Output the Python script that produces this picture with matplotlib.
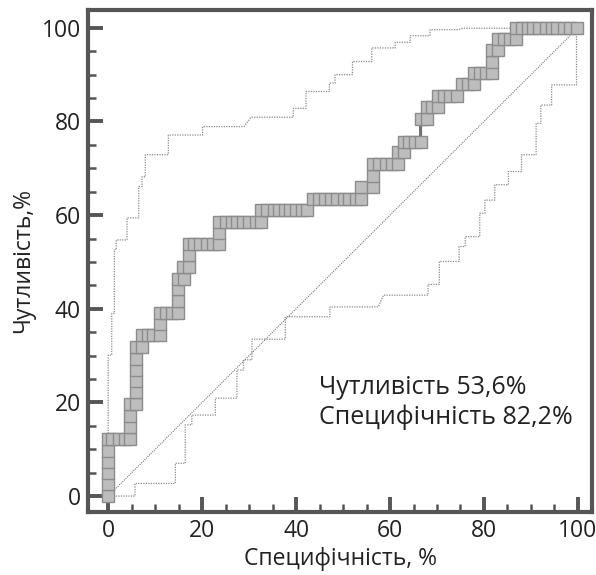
import matplotlib
matplotlib.use("Agg")
import matplotlib.pyplot as plt
from matplotlib.ticker import MultipleLocator

# ROC curve points (100 - specificity, sensitivity)
roc_x = [0, 0, 0, 0, 0, 0,
         0.85, 2.2, 3.5, 4.7,
         4.7, 4.7, 4.7, 5.9,
         5.9, 5.9, 5.9, 5.9, 5.9, 7.2,
         7.2, 8.4, 9.6, 11.0, 11.0,
         11.0, 12.3, 13.5, 14.8,
         14.8, 14.8, 14.8, 16.1, 16.0, 17.3, 17.2,
         17.2, 18.3, 19.6, 21.0, 22.4, 23.6, 23.6,
         23.6, 25.1, 26.3, 27.5, 28.8, 30.0, 31.4, 32.6,
         32.6, 33.9, 35.2, 36.4, 37.6, 38.8, 40.0, 41.2, 42.4,
         43.5, 44.9, 46.2, 47.4, 48.7, 50.1, 51.3, 52.7, 53.9,
         53.9, 56.3, 56.3,
         56.3, 57.7, 59.1, 60.4, 61.6,
         61.6, 62.9,
         62.9, 64.1, 65.3, 66.5,
         66.5, 67.8,
         67.8, 69.0, 70.2,
         70.3, 71.5, 72.8, 74.2,
         75.4, 76.6, 77.9,
         77.9, 79.2, 80.4, 81.8,
         81.8, 81.8, 83.0,
         83.0, 84.3, 85.5, 86.8,
         86.8, 88.0, 89.3, 90.5, 91.8, 93.1, 94.4, 95.6, 97.0, 98.3, 99.7]
roc_y = [0, 2.5, 4.9, 7.3, 9.7, 12.2,
         12.2, 12.2, 12.2, 12.2,
         14.7, 17.2, 19.7, 19.7,
         22.2, 24.5, 26.9, 29.3, 31.8, 31.8,
         34.3, 34.3, 34.3, 34.3, 36.7,
         39.2, 39.2, 39.2, 39.2,
         41.7, 44.2, 46.4, 46.4, 48.9, 48.9, 51.4,
         53.8, 53.8, 53.8, 53.8, 53.8, 53.8, 56.1,
         58.5, 58.5, 58.5, 58.5, 58.5, 58.5, 58.5, 58.5,
         61.0, 61.0, 61.0, 61.0, 61.0, 61.0, 61.0, 61.0, 61.0,
         63.5, 63.5, 63.5, 63.5, 63.5, 63.5, 63.5, 63.5, 63.5,
         66.0, 66.0, 68.4,
         70.9, 70.9, 70.9, 70.9, 70.9,
         73.4, 73.4,
         75.6, 75.6, 75.6, 75.6,
         80.5, 80.5,
         83.0, 83.0, 83.0,
         85.5, 85.5, 85.5, 85.5,
         88.0, 88.0, 88.0,
         90.3, 90.3, 90.3, 90.3,
         92.7, 95.2, 95.2,
         97.6, 97.6, 97.6, 97.6,
         100, 100, 100, 100, 100, 100, 100, 100, 100, 100, 100]

# upper confidence band corners
upper_x = [0, 0, 0.75, 0.75, 1.3, 1.3, 1.7, 1.7, 4.0, 4.0, 6.5, 6.5, 7.2, 7.2,
           7.9, 7.9, 12.8, 12.8, 20.1, 20.1, 28.9, 30.4, 39.4, 39.4, 42.1, 42.1,
           47.1, 47.1, 48.3, 48.3, 52.0, 52.0, 56.1, 56.1, 61.1, 61.1, 64.3, 64.3,
           68.5, 68.5, 74.5, 75.5, 85.5]
upper_y = [0, 30.1, 30.1, 39.0, 39.0, 52.6, 52.6, 54.7, 54.7, 59.4, 59.4, 66.1, 66.1, 68.2,
           68.2, 72.9, 72.9, 77.1, 77.1, 78.9, 78.9, 80.9, 80.9, 82.8, 82.8, 86.4,
           86.4, 88.2, 88.2, 90.0, 90.0, 92.8, 92.8, 95.7, 95.7, 96.9, 96.9, 98.3,
           98.3, 99.6, 99.6, 99.9, 99.9]

# lower confidence band corners
lower_x = [1.1, 5.7, 5.7, 14.3, 14.3, 16.4, 16.4, 17.8, 17.8, 22.8, 22.8, 27.4, 27.4,
           28.8, 28.8, 30.6, 30.6, 37.7, 37.7, 47.2, 47.2, 57.5, 58.6, 68.1, 68.1,
           70.5, 70.5, 74.7, 74.7, 76.0, 76.0, 79.1, 79.1, 80.2, 80.2, 82.3, 82.3,
           85.2, 85.2, 88.0, 88.0, 91.1, 91.1, 92.1, 92.1, 94.4, 94.4, 99.7, 99.7]
lower_y = [0, 0, 2.7, 2.7, 7.0, 7.0, 15.2, 15.2, 17.3, 17.3, 20.9, 20.9, 26.9,
           26.9, 29.1, 29.1, 33.5, 33.5, 38.3, 38.3, 40.4, 40.4, 42.9, 42.9, 45.2,
           45.2, 50.1, 50.1, 53.3, 53.3, 55.4, 55.4, 60.4, 60.4, 63.2, 63.2, 66.5,
           66.5, 69.3, 69.3, 72.9, 72.9, 79.6, 79.6, 83.5, 83.5, 87.8, 87.8, 100]

ticks = [0, 20, 40, 60, 80, 100]
sens_text = "Чутливість 53,6%"
spec_text = "Специфічність 82,2%"

plt.rcParams['font.family'] = ['Open Sans', 'DejaVu Sans']
text_col = "#222222"

fig = plt.figure(figsize=(5.96, 5.75), dpi=100)
ax = fig.add_axes([0.1477, 0.1096, 0.8456, 0.873])

frame_col = "#555555"
ax.plot([0, 100], [0, 100], color="#777777", lw=0.8, ls=(0, (1, 1)), zorder=1)
ax.plot(upper_x, upper_y, color="#8a8a8a", lw=0.9, ls=(0, (1, 1)), zorder=1)
ax.plot(lower_x, lower_y, color="#8a8a8a", lw=0.9, ls=(0, (1, 1)), zorder=1)
ax.plot(roc_x, roc_y, color="#707070", lw=2.2, zorder=2)
ax.plot(roc_x, roc_y, ls="none", marker="s", ms=8.4, mfc="#bdbdbd",
        mec="#8c8c8c", mew=1.0, zorder=3)

ax.set_xlim(-4.3, 103)
ax.set_ylim(-3.4, 103.8)
ax.set_xticks(ticks)
ax.set_yticks(ticks)
ax.xaxis.set_minor_locator(MultipleLocator(5))
ax.yaxis.set_minor_locator(MultipleLocator(5))
ax.tick_params(which="major", direction="in", length=11, width=2.8,
               color=frame_col, labelsize=16.5, labelcolor=text_col, pad=5)
ax.tick_params(which="minor", direction="in", length=6, width=1.8,
               color=frame_col)
ax.tick_params(top=False, right=False, which="both")
for s in ax.spines.values():
    s.set_color(frame_col)
    s.set_linewidth(3)

ax.set_xlabel("Специфічність, %", fontsize=16.5, color=text_col, labelpad=3)
ax.set_ylabel("Чутливість,%", fontsize=16.5, color=text_col, labelpad=5)

ax.text(44.8, 23.1, sens_text, fontsize=18, color=text_col,
        va="center", ha="left")
ax.text(44.8, 16.9, spec_text, fontsize=18, color=text_col,
        va="center", ha="left")

fig.savefig("out.png", dpi=100)
